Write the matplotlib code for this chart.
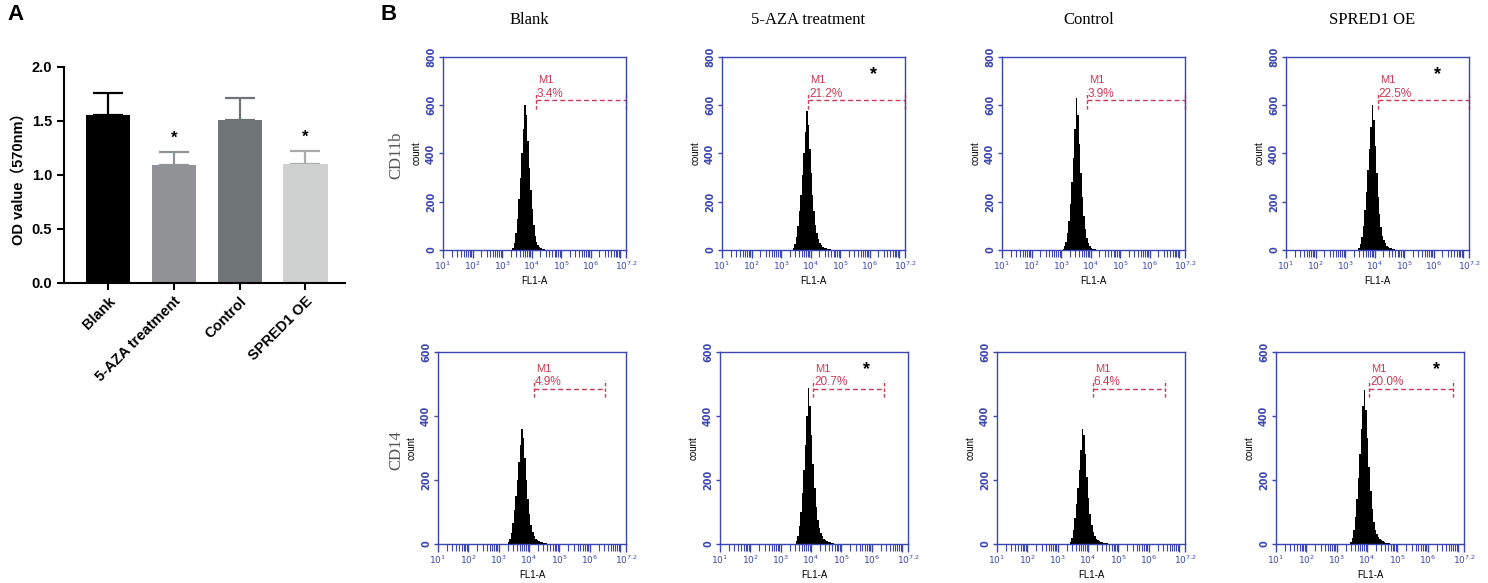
import numpy as np
import matplotlib
matplotlib.use('Agg')
import matplotlib.pyplot as plt
from matplotlib.ticker import FixedLocator, NullFormatter, FixedFormatter, LogLocator

W, H = 1488, 583

# ---------------- Panel A data ----------------
groups = ['Blank', '5-AZA treatment', 'Control', 'SPRED1 OE']
od_means = [1.56, 1.09, 1.51, 1.10]
od_sd = [0.20, 0.12, 0.20, 0.12]
sig_flags = [False, True, False, True]
bar_colors = ['#000000', '#8f9396', '#6f7476', '#cfd1d0']
err_colors = ['#000000', '#8f9396', '#6f7476', '#a9acab']

# ---------------- Panel B data ----------------
columns = ['Blank', '5-AZA treatment', 'Control', 'SPRED1 OE']
markers = ['CD11b', 'CD14']
bin_edges_log = [3.00, 3.05, 3.10, 3.15, 3.20, 3.25, 3.30, 3.35, 3.40, 3.45,
                 3.50, 3.55, 3.60, 3.65, 3.70, 3.75, 3.80, 3.85, 3.90, 3.95,
                 4.00, 4.05, 4.10, 4.15, 4.20, 4.25, 4.30, 4.35, 4.40, 4.45,
                 4.50, 4.55, 4.60, 4.65, 4.70, 4.75, 4.80, 4.85, 4.90]

cd11b_blank = [0]*7 + [10, 30, 70, 130, 210, 300, 400, 500, 600, 560, 450, 340, 250, 170,
                       105, 60, 35, 20, 12, 8, 5, 3, 2] + [0]*8
cd11b_aza = [0]*8 + [8, 25, 55, 100, 160, 230, 310, 400, 490, 575, 520, 420, 320, 230, 160,
                     105, 70, 45, 30, 20, 14, 10, 8, 6, 5, 3, 2] + [0]*3
cd11b_ctrl = [0] + [5, 15, 35, 70, 120, 190, 280, 380, 500, 630, 560, 440, 320, 220, 140,
                    85, 50, 28, 15, 9, 6, 4, 3, 2, 1] + [0]*12
cd11b_spred = [0]*9 + [8, 25, 55, 100, 165, 240, 330, 420, 510, 600, 540, 430, 320, 220,
                       150, 95, 60, 40, 27, 18, 13, 10, 7, 5, 3] + [0]*4
cd14_blank = [0]*6 + [5, 15, 35, 65, 105, 150, 200, 255, 310, 358, 330, 270, 200, 140, 95,
                      60, 38, 25, 17, 12, 9, 7, 5, 4, 3, 2, 1] + [0]*5
cd14_aza = [0]*10 + [8, 25, 55, 100, 160, 230, 310, 400, 487, 430, 340, 250, 175, 115, 75,
                     50, 34, 24, 17, 12, 9, 7, 5, 4, 2, 1] + [0]*2
cd14_ctrl = [0]*8 + [6, 20, 45, 80, 125, 175, 230, 295, 358, 340, 280, 210, 145, 95, 60,
                     38, 25, 17, 12, 9, 7, 5, 4, 3, 2, 1] + [0]*4
cd14_spred = [0]*9 + [6, 20, 45, 85, 140, 205, 280, 360, 430, 480, 420, 330, 240, 165, 110,
                      70, 45, 30, 21, 15, 11, 8, 6, 4, 3, 2] + [0]*3

hist_counts = [[cd11b_blank, cd11b_aza, cd11b_ctrl, cd11b_spred],
               [cd14_blank, cd14_aza, cd14_ctrl, cd14_spred]]
y_max = [800, 600]
y_ticks = [[0, 200, 400, 600, 800], [0, 200, 400, 600]]

gate_lo = [[4.14, 3.92, 3.87, 4.11], [4.15, 4.07, 4.16, 4.08]]
gate_hi = [[7.2, 7.2, 7.2, 7.2], [6.5, 6.42, 6.54, 6.85]]
gate_y = [[620, 620, 620, 620], [485, 485, 485, 485]]
gate_pct = [['3.4%', '21.2%', '3.9%', '22.5%'], ['4.9%', '20.7%', '6.4%', '20.0%']]
star_pos = [[None, (6.12, 726), None, (6.14, 726)], [None, (5.84, 544), None, (6.28, 544)]]

x_major_log = [1, 2, 3, 4, 5, 6, 7, 7.2]
x_major_lbl = ['1', '2', '3', '4', '5', '6', '', '7.2']

BLUE = '#3c46b0'
RED = '#c83a55'

fig = plt.figure(figsize=(W / 100, H / 100), dpi=100)


def px_axes(l, t, r, b):
    return fig.add_axes([l / W, 1 - b / H, (r - l) / W, (b - t) / H])


# ---------------- Panel A ----------------
axA = px_axes(64, 67, 345, 283)
x = np.arange(len(groups))
axA.bar(x, od_means, width=0.67, color=bar_colors, zorder=2)
for i in range(len(groups)):
    axA.errorbar(x[i], od_means[i], yerr=[[0], [od_sd[i]]], fmt='none',
                 ecolor=err_colors[i], elinewidth=1.6, capsize=11, capthick=1.6, zorder=1)
    if sig_flags[i]:
        axA.text(x[i], od_means[i] + od_sd[i] + 0.06, '*', ha='center', va='bottom',
                 fontsize=12, fontweight='bold', family='Liberation Sans')
axA.set_xlim(-0.667, 3.6)
axA.set_ylim(0, 2.0)
axA.set_yticks([0.0, 0.5, 1.0, 1.5, 2.0])
axA.set_yticklabels(['0.0', '0.5', '1.0', '1.5', '2.0'])
axA.set_xticks(x)
axA.set_xticklabels(groups, rotation=45, ha='right', rotation_mode='anchor')
for lab in axA.get_xticklabels() + axA.get_yticklabels():
    lab.set_fontweight('bold')
    lab.set_fontsize(10.5)
    lab.set_family('Liberation Sans')
axA.spines['top'].set_visible(False)
axA.spines['right'].set_visible(False)
axA.spines['left'].set_linewidth(1.5)
axA.spines['bottom'].set_linewidth(1.5)
axA.tick_params(axis='both', width=1.5, length=5, direction='out')
axA.tick_params(axis='x', pad=3)
axA.set_ylabel('OD value（570nm）', fontsize=10.5, fontweight='bold',
               family=['Liberation Sans', 'Noto Sans CJK SC'], labelpad=4)

fig.text(15 / W, 1 - 15 / H, 'A', fontsize=16, fontweight='bold', ha='center', va='center',
         family='Liberation Sans')
fig.text(389 / W, 1 - 15 / H, 'B', fontsize=16, fontweight='bold', ha='center', va='center',
         family='Liberation Sans')

# ---------------- Panel B ----------------
row_px = [dict(lefts=[443, 722, 1002, 1286], width=183, top=57, bottom=250),
          dict(lefts=[438, 720, 997, 1276], width=188, top=352, bottom=544)]
edges = 10 ** np.array(bin_edges_log)

for r in range(2):
    geo = row_px[r]
    ym = y_max[r]
    for c in range(4):
        l = geo['lefts'][c]
        ax = px_axes(l, geo['top'], l + geo['width'], geo['bottom'])
        ax.set_xscale('log')
        ax.stairs(hist_counts[r][c], edges, fill=True, color='black', linewidth=0)
        ax.set_xlim(10 ** 1, 10 ** 7.2)
        ax.set_ylim(0, ym)
        # gate
        lo, hi, gy = 10 ** gate_lo[r][c], 10 ** gate_hi[r][c], gate_y[r][c]
        ax.plot([lo, hi], [gy, gy], color=RED, lw=1.0, dashes=(3.5, 2.2), clip_on=False)
        for xx in (lo, hi):
            ax.plot([xx, xx], [gy - 0.045 * ym, gy + 0.045 * ym], color=RED, lw=1.0,
                    dashes=(2.5, 1.5), clip_on=False)
        ax.text(10 ** (gate_lo[r][c] + 0.07), gy + 0.09 * ym, 'M1', color=RED, fontsize=8,
                ha='left', va='baseline', family='Liberation Sans')
        ax.text(10 ** (gate_lo[r][c] + 0.03), gy + 0.02 * ym, gate_pct[r][c], color=RED,
                fontsize=8.5, ha='left', va='baseline', family='Liberation Sans')
        if star_pos[r][c] is not None:
            sx, sy = star_pos[r][c]
            ax.text(10 ** sx, sy, '*', ha='center', va='center', fontsize=13,
                    fontweight='bold', color='black', family='Liberation Sans')
        # axes styling
        for sp in ax.spines.values():
            sp.set_color(BLUE)
            sp.set_linewidth(1.0)
        ax.xaxis.set_major_locator(FixedLocator([10 ** v for v in x_major_log]))
        ax.xaxis.set_major_formatter(FixedFormatter(
            [(r'$10^{%s}$' % s) if s else '' for s in x_major_lbl]))
        ax.xaxis.set_minor_locator(LogLocator(base=10, subs=np.arange(2, 10), numticks=50))
        ax.xaxis.set_minor_formatter(NullFormatter())
        ax.tick_params(axis='x', which='major', length=6, width=1.0, color=BLUE,
                       labelcolor=BLUE, labelsize=6.5, pad=1)
        ax.tick_params(axis='x', which='minor', length=5, width=0.8, color=BLUE)
        ax.set_yticks(y_ticks[r])
        ax.set_yticklabels([str(v) for v in y_ticks[r]], rotation=90, va='center',
                           fontweight='bold')
        ax.tick_params(axis='y', length=3, width=1.0, color=BLUE, labelcolor=BLUE,
                       labelsize=7, pad=2)
        ax.set_ylabel('count', fontsize=7, labelpad=3, family='Liberation Sans')
        ax.set_xlabel('FL1-A', fontsize=7, labelpad=3, family='Liberation Sans')
        if r == 0:
            cx = (l + l + geo['width']) / 2 - 5
            fig.text(cx / W, 1 - 20 / H, columns[c], fontsize=12, ha='center', va='center',
                     family='Liberation Serif')

fig.text(396 / W, 1 - 155 / H, markers[0], fontsize=12, rotation=90, ha='center',
         va='center', color='#555555', family='Liberation Serif')
fig.text(396 / W, 1 - 450 / H, markers[1], fontsize=12, rotation=90, ha='center',
         va='center', color='#555555', family='Liberation Serif')

fig.savefig('out.png', dpi=100)
